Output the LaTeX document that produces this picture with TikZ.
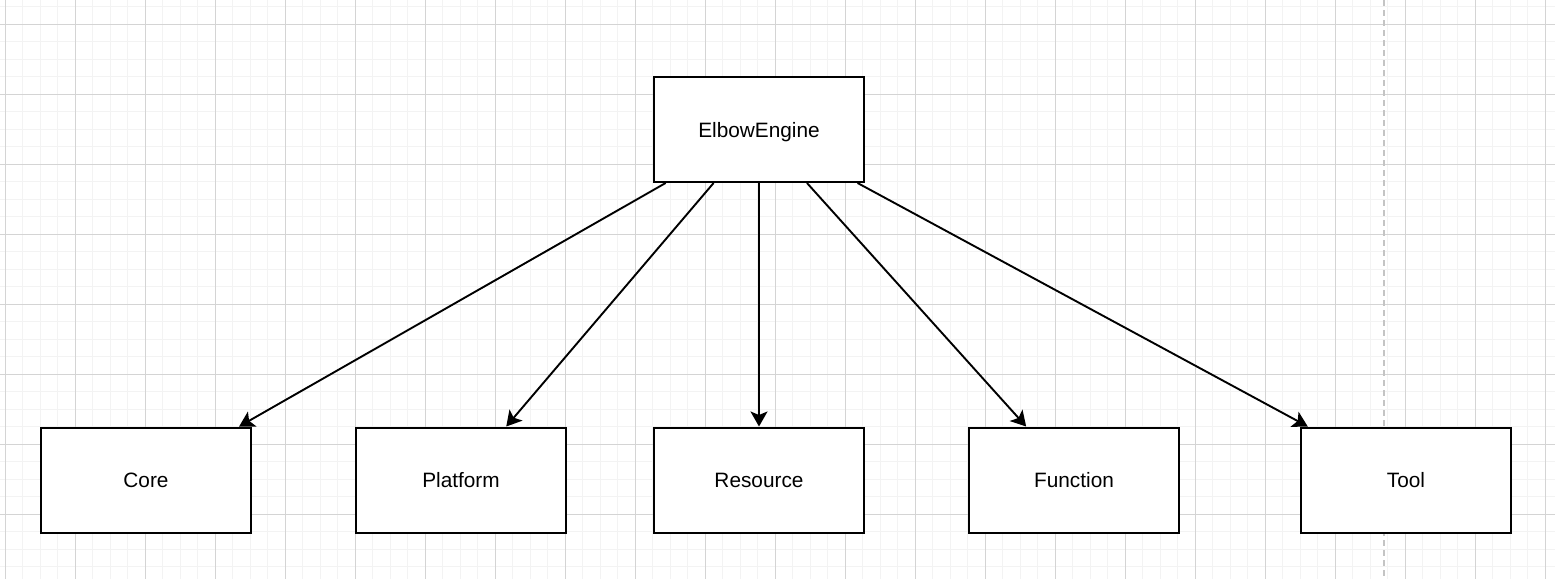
\documentclass[tikz,border=0pt]{standalone}
\usepackage{fontspec}
\setmainfont{Liberation Sans}
\usetikzlibrary{arrows.meta}
\definecolor{minorgrid}{HTML}{F3F3F3}
\definecolor{majorgrid}{HTML}{D4D4D4}
\definecolor{dashgrey}{HTML}{C4C4C4}
\tikzset{
  minorline/.style={draw=minorgrid, line width=1pt},
  majorline/.style={draw=majorgrid, line width=1pt},
  box/.style={draw=black, fill=white, line width=2pt, minimum width=210pt, minimum height=105pt, inner sep=0pt, text depth=0pt, font=\fontsize{20.8}{25}\selectfont},
  conn/.style={draw=black, line width=1.9pt, -{Stealth[length=15pt,width=17pt,inset=3.5pt]}},
  divider/.style={draw=dashgrey, line width=2pt, dash pattern=on 6pt off 4pt}
}
\begin{document}
\begin{tikzpicture}[x=1pt,y=-1pt]
\useasboundingbox (0,0) rectangle (1555,579);
\fill[white] (0,0) rectangle (1555,579);
% minor grid
\foreach \i in {0,...,89} \draw[minorline] ({5.3+17.5*\i},0) -- ++(0,579);
\foreach \j in {-1,...,32} \draw[minorline] (0,{24.3+17.5*\j}) -- ++(1555,0);
% major grid
\foreach \i in {0,...,22} \draw[majorline] ({5.3+70*\i},0) -- ++(0,579);
\foreach \j in {0,...,8} \draw[majorline] (0,{24.3+70*\j}) -- ++(1555,0);
% dashed divider
\coordinate (dtop) at (1383.7,0);
\coordinate (dbot) at (1383.7,579);
\draw[divider] (dtop) -- (dbot);
% nodes
\node[box] (engine) at (759,129.5) {ElbowEngine};
\node[box] (core) at (146,480) {Core};
\node[box] (platform) at (461,480) {Platform};
\node[box] (resource) at (759,480) {Resource};
\node[box] (function) at (1074,480) {Function};
\node[box] (tool) at (1406,480) {Tool};
% connectors
\draw[conn] (engine) -- (core);
\draw[conn] (engine) -- (platform);
\draw[conn] (engine) -- (resource);
\draw[conn] (engine) -- (function);
\draw[conn] (engine) -- (tool);
\end{tikzpicture}
\end{document}
